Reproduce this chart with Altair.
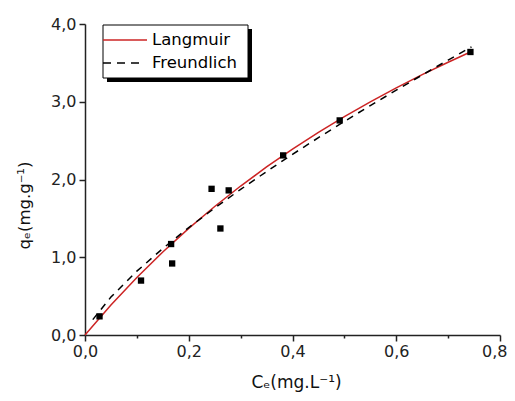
import altair as alt
import pandas as pd

# Experimental points
ce_points = [0.028, 0.108, 0.166, 0.168, 0.244, 0.261, 0.277, 0.382, 0.491, 0.743]
qe_points = [0.24, 0.70, 1.17, 0.92, 1.88, 1.37, 1.86, 2.31, 2.76, 3.64]

# Langmuir fitted curve
ce_lang = [0.0, 0.05, 0.10, 0.15, 0.20, 0.25, 0.30, 0.35, 0.40, 0.45, 0.50, 0.55, 0.60, 0.65, 0.70, 0.745]
qe_lang = [0.0, 0.385, 0.740, 1.068, 1.371, 1.653, 1.916, 2.161, 2.391, 2.606, 2.808, 2.999, 3.178, 3.348, 3.508, 3.646]

# Freundlich fitted curve
ce_freu = [0.015, 0.05, 0.10, 0.15, 0.20, 0.25, 0.30, 0.35, 0.40, 0.45, 0.50, 0.55, 0.60, 0.65, 0.70, 0.745]
qe_freu = [0.198, 0.488, 0.821, 1.113, 1.382, 1.633, 1.873, 2.102, 2.324, 2.538, 2.747, 2.951, 3.149, 3.344, 3.536, 3.705]

x_ticks = [0.0, 0.1, 0.2, 0.3, 0.4, 0.5, 0.6, 0.7, 0.8]
y_ticks = [0.0, 0.5, 1.0, 1.5, 2.0, 2.5, 3.0, 3.5, 4.0]

FONT = "DejaVu Sans"
RED = "#cc2424"
AX = "#222222"

pts = pd.DataFrame({"C": ce_points, "q": qe_points})
lang = pd.DataFrame({"C": ce_lang, "q": qe_lang})
freu = pd.DataFrame({"C": ce_freu, "q": qe_freu})
one = pd.DataFrame({"a": [0]})

x_axis = alt.Axis(
    values=x_ticks,
    labelExpr="round(datum.value*10)%2==0 ? replace(format(datum.value,'.1f'),'.',',') : ''",
    tickSize={"condition": {"test": "round(datum.value*10)%2!=0", "value": 3}, "value": 6},
    grid=False, domainColor=AX, tickColor=AX, domainWidth=1.5, tickWidth=1.5,
    labelFont=FONT, labelFontSize=16, labelColor=AX, labelPadding=2, labelFlush=False,
    labelAlign={"condition": {"test": "datum.value > 0.79", "value": "right"}, "value": "center"},
    labelOffset={"condition": {"test": "datum.value > 0.79", "value": 7}, "value": 0},
    title="Cₑ(mg.L⁻¹)", titleFont=FONT, titleFontSize=17, titleFontWeight="normal",
    titleColor="#111111", titleBaseline="alphabetic", titleY=52, titleX=211,
    titleAnchor="middle", titleAlign="center",
)
y_axis = alt.Axis(
    values=y_ticks,
    labelExpr="datum.value%1==0 ? replace(format(datum.value,'.1f'),'.',',') : ''",
    tickSize={"condition": {"test": "datum.value%1!=0", "value": 3}, "value": 6},
    grid=False, domainColor=AX, tickColor=AX, domainWidth=1.5, tickWidth=1.5,
    labelFont=FONT, labelFontSize=16, labelColor=AX, labelPadding=3, labelFlush=False,
    title="qₑ(mg.g⁻¹)", titleFont=FONT, titleFontSize=16.5, titleFontWeight="normal",
    titleColor="#111111", titleAngle=-90, titleX=-61, titleY=181,
    titleAlign="center", titleBaseline="middle",
)

xs = alt.Scale(domain=[0, 0.8], nice=False, zero=False)
ys = alt.Scale(domain=[0, 4], nice=False, zero=False)

lang_line = alt.Chart(lang).mark_line(color=RED, strokeWidth=1.5).encode(
    x=alt.X("C:Q", scale=xs, axis=x_axis),
    y=alt.Y("q:Q", scale=ys, axis=y_axis),
)
freu_line = alt.Chart(freu).mark_line(color="black", strokeWidth=1.5, strokeDash=[7, 6]).encode(
    x=alt.X("C:Q", scale=xs), y=alt.Y("q:Q", scale=ys)
)
points = alt.Chart(pts).mark_square(color="black", size=40, opacity=1).encode(
    x=alt.X("C:Q", scale=xs), y=alt.Y("q:Q", scale=ys)
)

# Legend box with drop shadow
shadow = alt.Chart(one).mark_rect(color="black").encode(
    x=alt.value(22), x2=alt.value(167), y=alt.value(5), y2=alt.value(58)
)
box = alt.Chart(one).mark_rect(fill="white", stroke="black", strokeWidth=1).encode(
    x=alt.value(18), x2=alt.value(163), y=alt.value(1), y2=alt.value(54)
)
leg_lang = alt.Chart(one).mark_rule(color=RED, strokeWidth=1.5).encode(
    x=alt.value(18), x2=alt.value(62), y=alt.value(16)
)
leg_freu = alt.Chart(one).mark_rule(color="black", strokeWidth=1.5, strokeDash=[8, 6]).encode(
    x=alt.value(18), x2=alt.value(58), y=alt.value(39)
)
txt_lang = alt.Chart(one).mark_text(font=FONT, fontSize=16.5, align="left", baseline="middle", color="black").encode(
    x=alt.value(67), y=alt.value(16), text=alt.value("Langmuir")
)
txt_freu = alt.Chart(one).mark_text(font=FONT, fontSize=16.5, align="left", baseline="middle", color="black").encode(
    x=alt.value(67), y=alt.value(39), text=alt.value("Freundlich")
)

chart = alt.layer(
    lang_line, freu_line, points, shadow, box, leg_lang, leg_freu, txt_lang, txt_freu
).properties(
    width=415, height=311,
    autosize=alt.AutoSizeParams(type="none"),
    padding={"left": 77, "top": 16, "right": 7, "bottom": 60},
    background="white",
).configure_view(stroke=None)

chart.save("out.html", embed_options={"renderer": "svg", "actions": False})
